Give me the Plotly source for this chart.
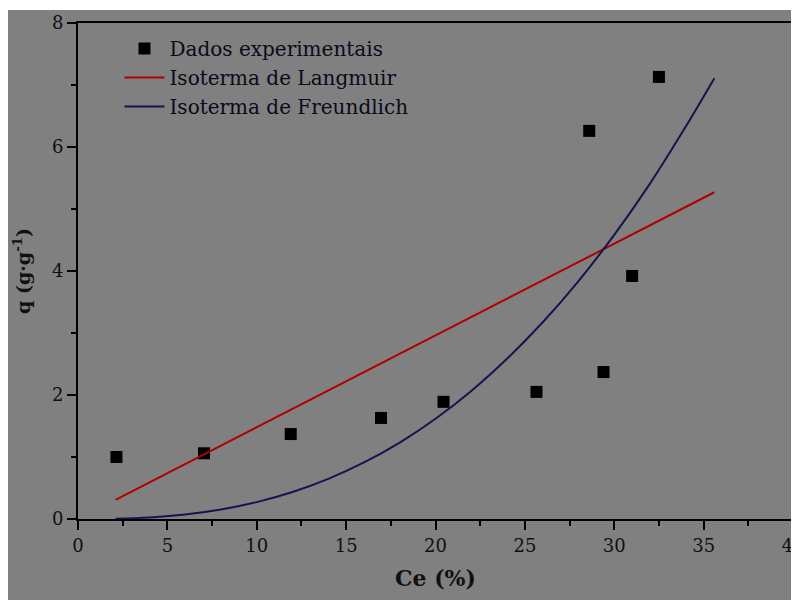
import plotly.graph_objects as go

# Experimental data
ce_exp = [2.15, 7.05, 11.9, 16.95, 20.45, 25.65, 28.6, 29.4, 31.0, 32.5]
q_exp = [1.00, 1.06, 1.37, 1.63, 1.89, 2.05, 6.26, 2.37, 3.92, 7.13]

# Langmuir fit
ce_lang = [2.1, 10, 20, 30, 35.6]
q_lang = [0.31, 1.48, 2.96, 4.44, 5.27]

# Freundlich fit
ce_freu = [2.1, 4, 6, 8, 10, 12, 14, 16, 18, 20, 22, 24, 26, 28, 30, 32, 34, 35.6]
q_freu = [0.005, 0.026, 0.073, 0.153, 0.272, 0.435, 0.647, 0.912, 1.233, 1.617,
          2.066, 2.585, 3.173, 3.838, 4.584, 5.41, 6.33, 7.11]

x_ticks = [0, 5, 10, 15, 20, 25, 30, 35, 40]
y_ticks = [0, 2, 4, 6, 8]

GRAY = "#808080"
FONT = "DejaVu Serif"
TXT = "#101010"

fig = go.Figure()
fig.add_trace(go.Scatter(x=ce_exp, y=q_exp, mode="markers", name="Dados experimentais",
                         marker=dict(symbol="square", size=12, color="black")))
fig.add_trace(go.Scatter(x=ce_lang, y=q_lang, mode="lines", name="Isoterma de Langmuir",
                         line=dict(color="#b00000", width=2)))
fig.add_trace(go.Scatter(x=ce_freu, y=q_freu, mode="lines", name="Isoterma de Freundlich",
                         line=dict(color="#141450", width=2, shape="spline")))

# figure is placed at (8, 8) in the page by the default body margin
W, H = 791, 594
L, R, T, B = 70, 6, 15, 83
pw, ph = W - L - R, H - T - B

# thin white strip at the very top
fig.add_shape(type="rect", xref="paper", yref="paper",
              x0=-L / pw - 0.01, x1=(W - L) / pw + 0.01,
              y0=(H - B - 2) / ph, y1=(H - B) / ph + 0.01,
              fillcolor="white", line=dict(width=0), layer="below")

axis_common = dict(showline=True, linecolor="black", linewidth=2, mirror=True,
                   ticks="outside", ticklen=9, tickwidth=2, tickcolor="black",
                   showgrid=False, zeroline=False, ticklabeloverflow="allow",
                   tickfont=dict(family=FONT, size=18, color=TXT))

fig.update_xaxes(range=[0, 40], tickvals=x_ticks, ticktext=[str(v) for v in x_ticks],
                 minor=dict(tickvals=[2.5 + 5 * i for i in range(8)], ticks="outside",
                            ticklen=5, tickwidth=2, tickcolor="black"),
                 title=dict(text="<b>Ce (%)</b>", font=dict(family=FONT, size=22, color=TXT),
                            standoff=16),
                 **axis_common)
fig.update_yaxes(range=[0, 8], tickvals=y_ticks, ticktext=[str(v) for v in y_ticks],
                 minor=dict(tickvals=[1, 3, 5, 7], ticks="outside",
                            ticklen=5, tickwidth=2, tickcolor="black"),
                 title=dict(text="<b>q (g·g<sup>-1</sup>)</b>",
                            font=dict(family=FONT, size=19, color=TXT), standoff=16),
                 **axis_common)

fig.update_layout(
    width=W, height=H,
    margin=dict(l=L, r=R, t=T, b=B, autoexpand=False),
    paper_bgcolor=GRAY, plot_bgcolor=GRAY,
    showlegend=True,
    legend=dict(x=0.058, y=0.988, xanchor="left", yanchor="top",
                bgcolor="rgba(0,0,0,0)", borderwidth=0,
                font=dict(family=FONT, size=20, color="#0a0a1a"),
                itemwidth=40, tracegroupgap=0),
)

fig.write_html("out.html")
